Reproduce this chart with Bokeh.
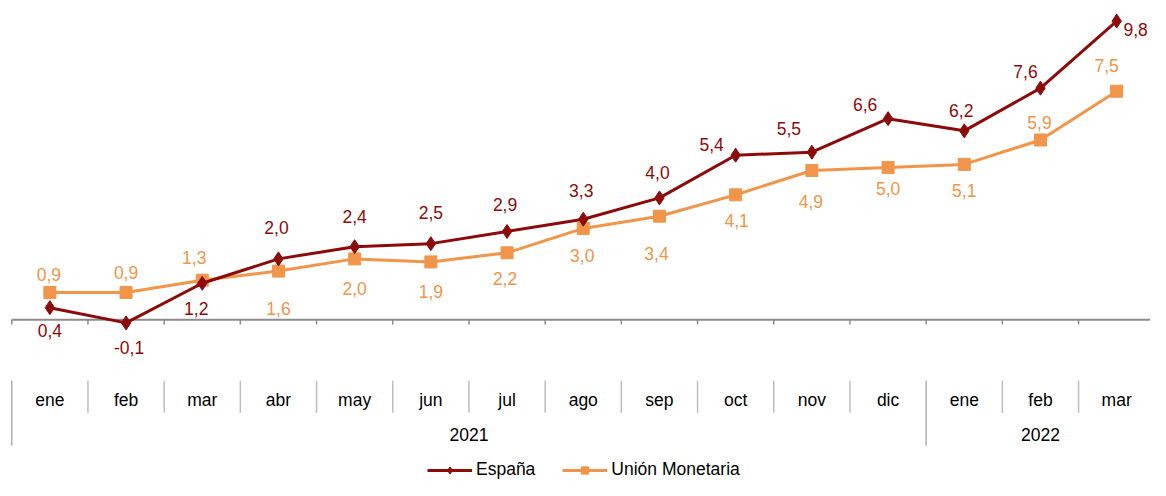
from bokeh.plotting import figure
from bokeh.models import ColumnDataSource, Legend, LegendItem, Range1d
from bokeh.core.properties import value
from bokeh.embed import file_html
from bokeh.resources import INLINE

# ---- data ----
months = ["ene", "feb", "mar", "abr", "may", "jun", "jul", "ago", "sep", "oct", "nov", "dic", "ene", "feb", "mar"]
years = ["2021", "2022"]
year_of_month = ["2021"] * 12 + ["2022"] * 3
espana = [0.4, -0.1, 1.2, 2.0, 2.4, 2.5, 2.9, 3.3, 4.0, 5.4, 5.5, 6.6, 6.2, 7.6, 9.8]
union_monetaria = [0.9, 0.9, 1.3, 1.6, 2.0, 1.9, 2.2, 3.0, 3.4, 4.1, 4.9, 5.0, 5.1, 5.9, 7.5]

# ---- label placement (style: pixel offsets, positive = up) ----
es_dx = [0, 3, -6, -2, 0, 0, -2, -2, -2, -24, -23, -23, -3, -15, 19]
es_dy = [-23, -25, -25, 31, 30, 31, 27, 29, 25, 11, 24, 14, 20, 17, -8]
um_dx = [-1, 0, -8, 0, 0, 0, -2, -1, -3, 1, -1, 0, 0, -1, -10]
um_dy = [18, 20, 23, -37, -30, -30, -26, -27, -37, -26, -31, -21, -26, 17, 26]

DARK = "#8c0a0a"
ORANGE = "#f0954a"
FONT = "Liberation Sans"
FS = "17.5px"

W, H = 1150, 480
p = figure(width=W, height=H, output_backend="svg", toolbar_location=None,
           x_range=Range1d(-0.1476, 14.944), y_range=Range1d(-5.27, 10.476),
           min_border=0, min_border_left=0, min_border_right=0,
           min_border_top=0, min_border_bottom=0)
p.axis.visible = False
p.grid.visible = False
p.outline_line_color = None

n = len(months)
xc = [i + 0.5 for i in range(n)]
fmt = lambda v: f"{v:.1f}".replace(".", ",")

# zero axis line + ticks at category boundaries
p.segment(x0=[0], y0=[0], x1=[n], y1=[0], line_color="#8c8c8c", line_width=2)
bounds = list(range(n))
p.segment(x0=bounds, y0=[0] * n, x1=bounds, y1=[-0.15] * n, line_color="#8c8c8c", line_width=1.5)

# category table separators
short_b = [b for b in range(1, n) if year_of_month[b] == year_of_month[b - 1]]
long_b = [0] + [b for b in range(1, n) if year_of_month[b] != year_of_month[b - 1]]
p.segment(x0=short_b, y0=[-2.0] * len(short_b), x1=short_b, y1=[-3.05] * len(short_b),
          line_color="#bdbdbd", line_width=1.5)
p.segment(x0=long_b, y0=[-2.0] * len(long_b), x1=long_b, y1=[-4.13] * len(long_b),
          line_color="#b0b0b0", line_width=1.5)

# month labels
p.text(x=xc, y=[-2.63] * n, text=months, text_align="center", text_baseline="middle",
       text_font=value(FONT), text_font_size=FS, text_color="#000000")
# year labels
yx = []
for yr in years:
    idx = [i for i in range(n) if year_of_month[i] == yr]
    yx.append((min(idx) + max(idx) + 1) / 2)
p.text(x=yx, y=[-3.75] * len(years), text=years, text_align="center", text_baseline="middle",
       text_font=value(FONT), text_font_size=FS, text_color="#000000")

# series
src = ColumnDataSource(dict(x=xc, es=espana, um=union_monetaria,
                            es_lbl=[fmt(v) for v in espana], um_lbl=[fmt(v) for v in union_monetaria],
                            es_dx=es_dx, es_dy=[-d for d in es_dy],
                            um_dx=um_dx, um_dy=[-d for d in um_dy]))

um_line = p.line("x", "um", source=src, line_color=ORANGE, line_width=3)
um_pts = p.scatter("x", "um", source=src, marker="square", size=12, fill_color=ORANGE, line_color=ORANGE)
es_line = p.line("x", "es", source=src, line_color=DARK, line_width=3)
es_pts = p.scatter("x", "es", source=src, marker="diamond", size=14, fill_color=DARK, line_color=DARK)

p.text(x="x", y="es", text="es_lbl", source=src, x_offset="es_dx", y_offset="es_dy",
       text_align="center", text_baseline="middle", text_font=value(FONT),
       text_font_size=FS, text_color=DARK)
p.text(x="x", y="um", text="um_lbl", source=src, x_offset="um_dx", y_offset="um_dy",
       text_align="center", text_baseline="middle", text_font=value(FONT),
       text_font_size=FS, text_color=ORANGE)

legend = Legend(items=[LegendItem(label="España", renderers=[es_line, es_pts]),
                       LegendItem(label="Unión Monetaria", renderers=[um_line, um_pts])],
                orientation="horizontal", location=(427, 0),
                glyph_width=45, glyph_height=18, label_standoff=4, spacing=27,
                padding=0, margin=0, border_line_alpha=0, background_fill_alpha=0,
                label_text_font=FONT, label_text_font_size=FS, label_text_color="#000000")
p.add_layout(legend)

open("out.html", "w").write(file_html(p, INLINE))
